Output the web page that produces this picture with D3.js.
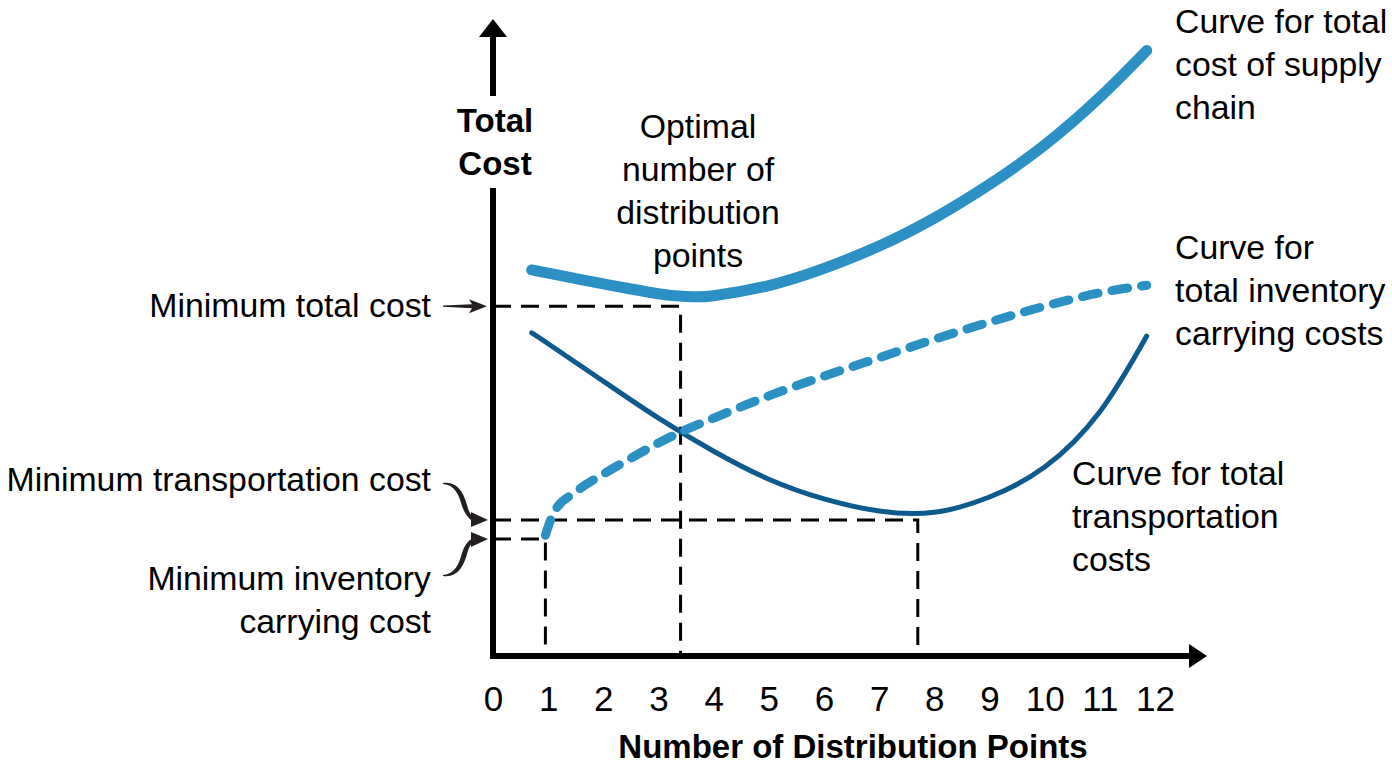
<!DOCTYPE html>
<html>
<head>
<meta charset="utf-8">
<script src="https://cdn.jsdelivr.net/npm/d3@7"></script>
<style>
  body { margin: 0; background: #fff; }
  svg { display: block; font-family: "Liberation Sans", Arial, sans-serif; }
</style>
</head>
<body>
<div id="app"></div>
<script>
// x ticks (number of distribution points)
const xTicks = [0, 1, 2, 3, 4, 5, 6, 7, 8, 9, 10, 11, 12];

// curves, [points, cost] (cost in arbitrary units 0-100)
const totalCost = [
  [0.7, 60.7], [1, 60.2], [1.5, 59.35], [2, 58.5], [2.5, 57.7], [3, 56.95],
  [3.3, 56.65], [3.6, 56.5], [4, 56.65], [5, 58.25], [6, 60.95], [7, 64.45],
  [8, 68.85], [9, 74.15], [10, 80.35], [11, 87.85], [11.85, 95.2]
];
const transportCost = [
  [0.7, 50.8], [1, 49.1], [2, 43.2], [3, 37.4], [4, 32.2], [5, 27.8],
  [6, 24.7], [7, 22.8], [8, 22.6], [9, 25.0], [10, 29.7], [11, 38.4],
  [11.85, 50.3]
];
const inventoryCost = [
  [0.95, 19.0], [1.1, 22.5], [1.5, 25.8], [2, 28.6], [2.5, 31.1], [3, 33.5],
  [3.4, 35.2], [4, 37.4], [5, 40.9], [6, 44.0], [7, 46.9], [8, 49.8],
  [9, 52.5], [10, 55.0], [11, 57.1], [11.85, 58.3]
];

// reference minimums [points, cost]
const minTotal = [3.4, 55.0];
const minTransport = [7.7, 21.4];
const minInventory = [0.95, 18.4];

const width = 1392;
const height = 767;
const lightBlue = "#2b90c3";
const darkBlue = "#0c5a8e";

const x = d3.scaleLinear().domain([0, 12]).range([493, 1155]);
const y = d3.scaleLinear().domain([0, 100]).range([656, 20]);

const svg = d3.select("#app")
  .append("svg")
  .attr("width", width)
  .attr("height", height);

// dashed guides
const guide = d3.line().x(d => x(d[0])).y(d => y(d[1]));
[minTotal, minTransport, minInventory].forEach(([px, c]) => {
  svg.append("path")
    .attr("d", guide([[0, c], [px, c], [px, 0]]))
    .attr("fill", "none")
    .attr("stroke", "#000")
    .attr("stroke-width", 3)
    .attr("stroke-dasharray", "18 10");
});

// curves
const curve = (data, c) => d3.line()
  .x(d => x(d[0]))
  .y(d => y(d[1]))
  .curve(c)(data);

svg.append("path")
  .attr("d", curve(transportCost, d3.curveNatural))
  .attr("fill", "none")
  .attr("stroke", darkBlue)
  .attr("stroke-width", 5)
  .attr("stroke-linecap", "round");

svg.append("path")
  .attr("d", curve(inventoryCost, d3.curveMonotoneX))
  .attr("fill", "none")
  .attr("stroke", lightBlue)
  .attr("stroke-width", 9)
  .attr("stroke-linecap", "round")
  .attr("stroke-dasharray", "16 14");

svg.append("path")
  .attr("d", curve(totalCost, d3.curveNatural))
  .attr("fill", "none")
  .attr("stroke", lightBlue)
  .attr("stroke-width", 11)
  .attr("stroke-linecap", "round");

// axes
const x0 = x(0);
const y0 = y(0);
svg.append("line")
  .attr("x1", x0).attr("x2", x0)
  .attr("y1", y0 + 3).attr("y2", 188)
  .attr("stroke", "#000").attr("stroke-width", 6);
svg.append("line")
  .attr("x1", x0).attr("x2", x0)
  .attr("y1", 96).attr("y2", 34)
  .attr("stroke", "#000").attr("stroke-width", 6);
svg.append("path")
  .attr("d", `M${x0 - 14},37 L${x0},19 L${x0 + 14},37 Z`)
  .attr("fill", "#000");
svg.append("line")
  .attr("x1", x0 - 3).attr("x2", 1192)
  .attr("y1", y0).attr("y2", y0)
  .attr("stroke", "#000").attr("stroke-width", 6);
svg.append("path")
  .attr("d", `M1189,${y0 - 12} L1207,${y0} L1189,${y0 + 12} Z`)
  .attr("fill", "#000");

const xAxis = d3.axisBottom(x).tickValues(xTicks).tickSize(0).tickPadding(30);
const gx = svg.append("g")
  .attr("transform", `translate(0, ${y0})`)
  .call(xAxis);
gx.select(".domain").remove();
gx.selectAll("text")
  .attr("font-size", 35)
  .attr("font-family", "'Liberation Sans', Arial, sans-serif")
  .attr("fill", "#000");

svg.append("text")
  .attr("x", 853).attr("y", 758)
  .attr("text-anchor", "middle")
  .attr("font-size", 33)
  .attr("font-weight", "bold")
  .text("Number of Distribution Points");

svg.append("text")
  .attr("x", 495).attr("text-anchor", "middle")
  .attr("font-size", 33).attr("font-weight", "bold")
  .selectAll("tspan")
  .data(["Total", "Cost"])
  .join("tspan")
  .attr("x", 495)
  .attr("y", (d, i) => 132 + i * 43)
  .text(d => d);

// multi-line labels
const label = (lines, lx, ly, anchor) => {
  svg.append("text")
    .attr("text-anchor", anchor)
    .attr("font-size", 33.8)
    .attr("fill", "#000")
    .selectAll("tspan")
    .data(lines)
    .join("tspan")
    .attr("x", lx)
    .attr("y", (d, i) => ly + i * 43)
    .text(d => d);
};

label(["Optimal", "number of", "distribution", "points"], 698, 138, "middle");
label(["Curve for total", "cost of supply", "chain"], 1175, 33, "start");
label(["Curve for", "total inventory", "carrying costs"], 1175, 259, "start");
label(["Curve for total", "transportation", "costs"], 1072, 485, "start");
label(["Minimum total cost"], 431, 317, "end");
label(["Minimum transportation cost"], 431, 491, "end");
label(["Minimum inventory", "carrying cost"], 431, 590, "end");

// pointer arrows
const ink = "#231f20";
const yT = y(minTotal[1]);
svg.append("path")
  .attr("d", `M443,${yT - 0.6} L472,${yT - 2} L469,${yT - 7} L487,${yT} L469,${yT + 7} L472,${yT + 2} L443,${yT + 0.6} Z`)
  .attr("fill", ink);

// tapered swoosh: outer and inner edges of a curved band
const swoosh = (yEnd, dir) => {
  const s = dir;
  return `M443,${yEnd - s * 37} ` +
    `C458,${yEnd - s * 39} 464,${yEnd - s * 26} 467,${yEnd - s * 15} ` +
    `C469,${yEnd - s * 7} 472,${yEnd - s * 2.5} 476,${yEnd - s * 2} ` +
    `L476,${yEnd + s * 2} ` +
    `C470,${yEnd + s * 1} 465,${yEnd - s * 5} 462,${yEnd - s * 14} ` +
    `C459,${yEnd - s * 25} 455,${yEnd - s * 35} 443,${yEnd - s * 36} Z`;
};

const yTr = y(minTransport[1]);
svg.append("path").attr("d", swoosh(yTr, 1)).attr("fill", ink);
svg.append("path")
  .attr("d", `M471,${yTr - 8} L488,${yTr} L471,${yTr + 7} Z`)
  .attr("fill", ink);

const yIn = y(minInventory[1]);
svg.append("path").attr("d", swoosh(yIn, -1)).attr("fill", ink);
svg.append("path")
  .attr("d", `M471,${yIn - 7} L488,${yIn} L471,${yIn + 8} Z`)
  .attr("fill", ink);
</script>
</body>
</html>
